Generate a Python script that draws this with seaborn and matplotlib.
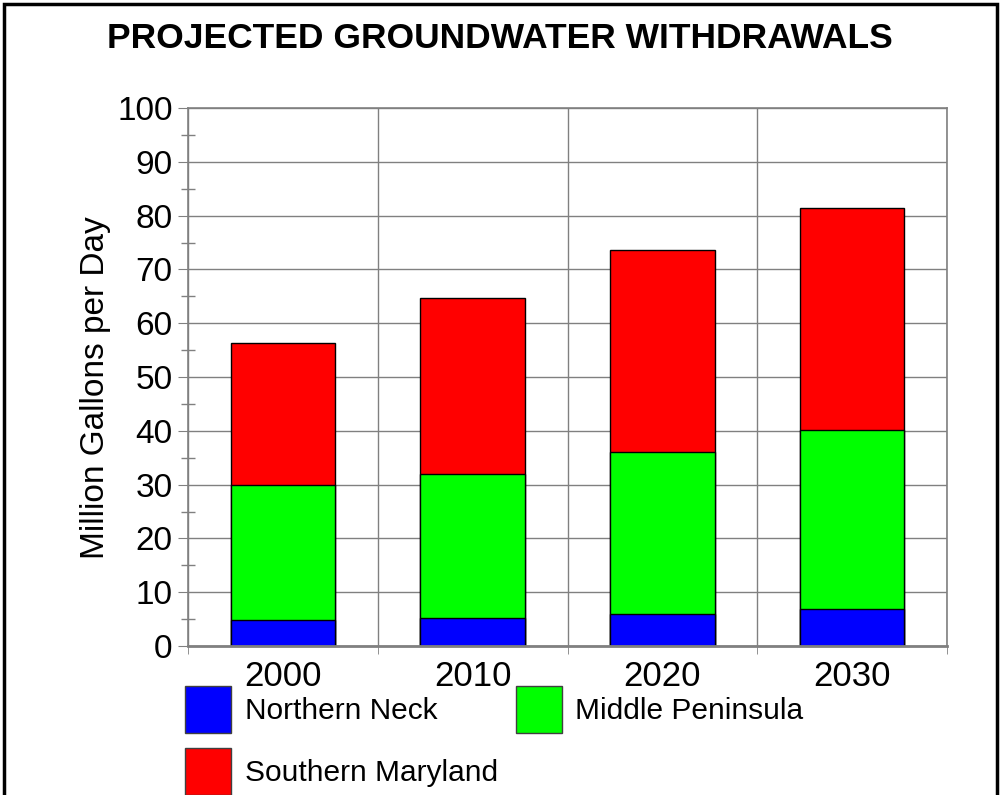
import numpy as np
import pandas as pd
import matplotlib.pyplot as plt
import matplotlib.patches as mpatches
from matplotlib.ticker import MultipleLocator, FixedLocator
import seaborn as sns

YEARS = ["2000", "2010", "2020", "2030"]
NORTHERN_NECK = [4.8, 5.3, 6.0, 6.8]
MIDDLE_PENINSULA = [25.1, 26.6, 30.0, 33.3]
SOUTHERN_MARYLAND = [26.5, 32.8, 37.6, 41.4]

SERIES = ["Northern Neck", "Middle Peninsula", "Southern Maryland"]
COLORS = {"Northern Neck": "#0000FF", "Middle Peninsula": "#00FF00",
          "Southern Maryland": "#FF0000"}

sns.set_style("white")
plt.rcParams["font.family"] = ["Liberation Sans", "DejaVu Sans"]
plt.rcParams["text.color"] = "black"
plt.rcParams["axes.labelcolor"] = "black"
plt.rcParams["xtick.color"] = "black"
plt.rcParams["ytick.color"] = "black"

df = pd.DataFrame({
    "year": YEARS,
    "Northern Neck": NORTHERN_NECK,
    "Middle Peninsula": MIDDLE_PENINSULA,
    "Southern Maryland": SOUTHERN_MARYLAND,
})
# cumulative tops for stacking, drawn from the tallest down
cum = df[SERIES].cumsum(axis=1)
cum["year"] = df["year"]

fig = plt.figure(figsize=(10, 7.95), dpi=100)
ax = fig.add_axes([0.188, 0.1874, 0.759, 0.6767])

for name in reversed(SERIES):
    sns.barplot(data=cum, x="year", y=name, ax=ax, color=COLORS[name],
                width=0.55, edgecolor="black", linewidth=1.0, saturation=1)

ax.set_xlim(-0.5, 3.5)
ax.set_ylim(0, 100)
ax.set_xlabel("")
ax.set_ylabel("Million Gallons per Day", fontsize=24)
ax.yaxis.set_label_coords(-0.102, 0.481)

ax.yaxis.set_major_locator(MultipleLocator(10))
ax.yaxis.set_minor_locator(MultipleLocator(5))
ax.xaxis.set_minor_locator(FixedLocator([-0.5, 0.5, 1.5, 2.5, 3.5]))

ax.grid(True, axis="y", which="major", color="#808080", linewidth=1)
ax.grid(True, axis="x", which="minor", color="#808080", linewidth=1)
ax.set_axisbelow(True)

ax.tick_params(axis="y", which="major", left=True, labelsize=24, length=7,
               color="#808080", direction="out", pad=4)
ax.tick_params(axis="y", which="minor", left=True, length=10, width=1,
               color="#808080", direction="inout")
ax.tick_params(axis="x", which="major", labelsize=25, length=0, pad=10)
ax.tick_params(axis="x", which="minor", bottom=True, length=6,
               color="#808080", direction="out")

for s in ax.spines.values():
    s.set_color("#808080")
    s.set_linewidth(1.2)
ax.spines["bottom"].set_linewidth(2)

fig.suptitle("PROJECTED GROUNDWATER WITHDRAWALS", fontsize=25.5,
             fontweight="bold", y=0.952, va="center")

handles = [mpatches.Patch(facecolor=COLORS[n], edgecolor="#404040", label=n)
           for n in ["Northern Neck", "Southern Maryland", "Middle Peninsula"]]
fig.legend(handles=handles, ncol=2, loc="upper left",
           bbox_to_anchor=(0.185, 0.137), frameon=False, fontsize=21.5,
           handlelength=1.55, handleheight=2.05, handletextpad=0.45,
           labelspacing=0.5, columnspacing=0.6, borderpad=0,
           borderaxespad=0)

frame = mpatches.Rectangle((0.0035, -0.1), 0.993, 1.0955, transform=fig.transFigure,
                           fill=False, edgecolor="black", linewidth=2.5)
fig.patches.append(frame)

fig.savefig("out.png", dpi=100)
